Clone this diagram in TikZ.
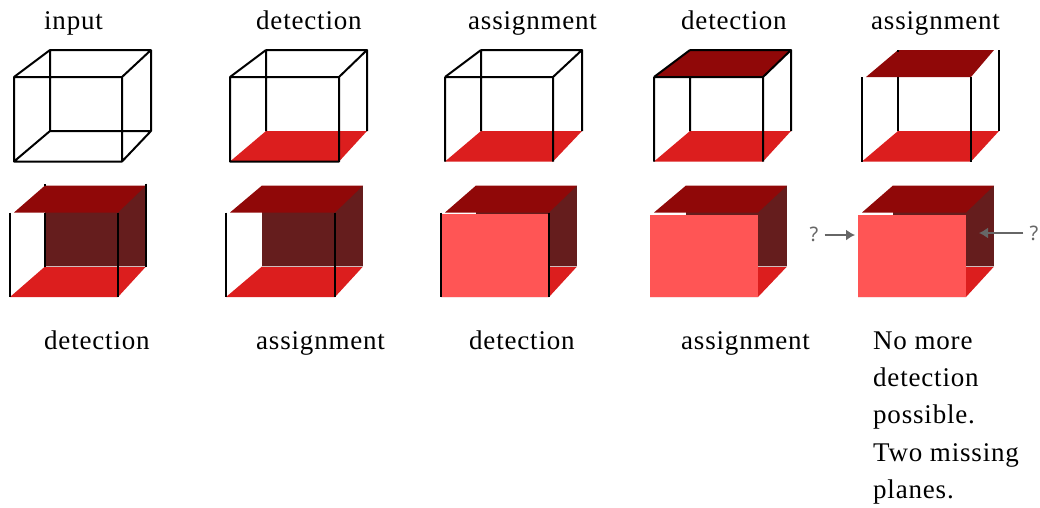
\documentclass[tikz,border=0pt]{standalone}
\usepackage{fontspec}
\setmainfont{Liberation Serif}[LetterSpace=3]
\newfontfamily\qfont{Noto Sans}
\usetikzlibrary{arrows.meta}
\definecolor{floorred}{HTML}{DC1E1E}
\definecolor{topred}{HTML}{900808}
\definecolor{backred}{HTML}{651D1D}
\definecolor{frontred}{HTML}{FF5555}
\definecolor{qgray}{HTML}{666666}
\newcommand{\setcube}[5]{%
  \coordinate (#1fl) at (#2,#5+77);
  \coordinate (#1fr) at (#3,#5+77);
  \coordinate (#1FL) at (#2,#5+161.5);
  \coordinate (#1FR) at (#3,#5+161.5);
  \coordinate (#1bl) at (#4,#5+50);
  \coordinate (#1br) at (#4+101,#5+50);
  \coordinate (#1BL) at (#4,#5+131);
  \coordinate (#1BR) at (#4+101,#5+131);
}
\tikzset{
  cubeedge/.style={draw=black,line width=2pt,line join=round},
  floorface/.style={fill=floorred},
  topface/.style={fill=topred},
  backface/.style={fill=backred},
  frontface/.style={fill=frontred},
  seam/.style={draw=white,opacity=.7,line width=.8pt},
  captext/.style={anchor=base west,inner sep=0pt,font=\fontsize{27}{32}\selectfont},
  qmark/.style={text=qgray,inner sep=0pt,font=\qfont\fontsize{20}{24}\selectfont},
  qarrow/.style={draw=qgray,line width=1.5pt,-{Latex[length=9pt,width=11pt]}}
}
\begin{document}
\begin{tikzpicture}[x=1pt,y=-1pt]
\useasboundingbox (0,0) rectangle (1040,507);
\setcube{a}{14}{122}{50}{0}
\setcube{b}{230}{339}{266}{0}
\setcube{c}{445}{553}{481}{0}
\setcube{d}{654}{763}{690}{0}
\setcube{e}{862}{971}{898}{0}
\setcube{f}{10}{118}{45}{135.5}
\setcube{g}{226}{335}{262}{135.5}
\setcube{h}{441}{549}{476}{135.5}
\setcube{i}{650}{758}{686}{135.5}
\setcube{j}{858}{966}{893}{135.5}
% row 1
\draw[cubeedge] (abl)--(abr)--(aBR)--(aBL)--cycle (afl)--(afr)--(aFR)--(aFL)--cycle (afl)--(abl) (afr)--(abr) (aFL)--(aBL) (aFR)--(aBR);
\fill[floorface] (bFL)--(bFR)--(bBR)--(bBL)--cycle;
\draw[cubeedge] (bbl)--(bbr)--(bBR) (bBL)--(bbl) (bfl)--(bfr)--(bFR)--(bFL)--cycle (bfl)--(bbl) (bfr)--(bbr);
\fill[floorface] (cFL)--(cFR)--(cBR)--(cBL)--cycle;
\draw[cubeedge] (cbl)--(cbr)--(cBR) (cBL)--(cbl) (cfl)--(cfr)--(cFR) (cFL)--(cfl) (cfl)--(cbl) (cfr)--(cbr);
\fill[floorface] (dFL)--(dFR)--(dBR)--(dBL)--cycle;
\fill[topface] (dfl)--(dfr)--(dbr)--(dbl)--cycle;
\draw[cubeedge] (dbl)--(dbr)--(dBR) (dBL)--(dfl-|dbl) (dfl)--(dfr)--(dFR) (dFL)--(dfl) (dfl)--(dbl) (dfr)--(dbr);
\fill[floorface] (eFL)--(eFR)--(eBR)--(eBL)--cycle;
\fill[topface] ([xshift=4pt]efl)--(efr)--([xshift=-5pt]ebr)--(ebl)--cycle;
\draw[cubeedge] (efl)--(eFL) (efr)--(eFR) (ebr)--(eBR) (efl-|ebl)--(eBL) (ebl)--([yshift=-2pt]ebl);
% row 2
\fill[floorface] (fFL)--(fFR)--(fBR)--(fBL)--cycle;
\fill[backface] (fbl)--(fbr)--(fBR)--(fBL)--cycle;
\fill[topface] ([xshift=4pt]ffl)--(ffr)--(fbr)--(fbl)--cycle;
\draw[seam] (fBL)--(fBR);
\draw[cubeedge] (ffl)--(fFL) (ffr)--(fFR) ([yshift=2pt]fbr)--(fBR) (ffl-|fbl)--(fBL) (fbl)--([yshift=2pt]fbl);
\fill[floorface] (gFL)--(gFR)--(gBR)--(gBL)--cycle;
\fill[backface] (gbl)--(gbr)--(gBR)--(gBL)--cycle;
\fill[topface] ([xshift=4pt]gfl)--(gfr)--(gbr)--(gbl)--cycle;
\draw[seam] (gBL)--(gBR);
\draw[cubeedge] (gfl)--(gFL) (gfr)--(gFR);
\fill[floorface] (hFL)--(hFR)--(hBR)--(hBL)--cycle;
\fill[backface] (hbl)--(hbr)--(hBR)--(hBL)--cycle;
\fill[topface] ([xshift=4pt]hfl)--(hfr)--(hbr)--(hbl)--cycle;
\fill[frontface] ([yshift=-1pt]hfl)--([yshift=-1pt]hfr)--(hFR)--(hFL)--cycle;
\draw[seam] (hFR|-hBR)--(hBR);
\draw[cubeedge] (hfl)--(hFL) (hfr)--(hFR);
\fill[floorface] (iFL)--(iFR)--(iBR)--(iBL)--cycle;
\fill[backface] (ibl)--(ibr)--(iBR)--(iBL)--cycle;
\fill[topface] ([xshift=4pt]ifl)--(ifr)--(ibr)--(ibl)--cycle;
\fill[frontface] ([yshift=-2pt]ifl)--([yshift=-2pt]ifr)--(iFR)--(iFL)--cycle;
\draw[seam] (iFR|-iBR)--(iBR);
\fill[floorface] (jFL)--(jFR)--(jBR)--(jBL)--cycle;
\fill[backface] (jbl)--(jbr)--(jBR)--(jBL)--cycle;
\fill[topface] ([xshift=4pt]jfl)--(jfr)--(jbr)--(jbl)--cycle;
\fill[frontface] ([yshift=-2pt]jfl)--([yshift=-2pt]jfr)--(jFR)--(jFL)--cycle;
\draw[seam] (jFR|-jBR)--(jBR);
% question marks
\node[qmark] (q1) at (814,234) {?};
\node[qmark] (q2) at (1034,233) {?};
\coordinate (t1) at (855,235);
\coordinate (t2) at (979,233);
\draw[qarrow] ([xshift=6pt,yshift=-1pt]q1.east) -- (t1);
\draw[qarrow] ([xshift=-6pt]q2.west) -- (t2);
% captions
\node[captext] (t01) at (44,29) {input};
\node[captext] (t02) at (256,29) {detection};
\node[captext] (t03) at (468,29) {assignment};
\node[captext] (t04) at (681,29) {detection};
\node[captext] (t05) at (871,29) {assignment};
\node[captext] (t06) at (44,349) {detection};
\node[captext] (t07) at (256,349) {assignment};
\node[captext] (t08) at (469,349) {detection};
\node[captext] (t09) at (681,349) {assignment};
\node[captext] (t10) at (873,349) {No more};
\node[captext] (t11) at (873,386) {detection};
\node[captext] (t12) at (873,423) {possible.};
\node[captext] (t13) at (873,461) {Two missing};
\node[captext] (t14) at (873,498) {planes.};
\end{tikzpicture}
\end{document}
